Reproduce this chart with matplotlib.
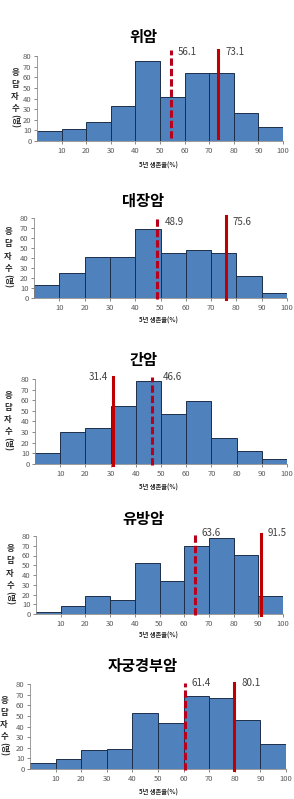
import matplotlib
matplotlib.use("Agg")
import matplotlib.pyplot as plt
import numpy as np

plt.rcParams['font.family'] = ['Noto Sans CJK KR', 'DejaVu Sans']

# ========== 데이터 ==========
bins = [0, 10, 20, 30, 40, 50, 60, 70, 80, 90, 100]
titles = ['위암', '대장암', '간암', '유방암', '자궁경부암']

counts_stomach = [9, 11, 18, 33, 75, 41, 64, 64, 26, 13]
counts_colon = [13, 25, 41, 41, 69, 45, 48, 45, 22, 5]
counts_liver = [10, 30, 34, 55, 78, 47, 59, 24, 12, 5]
counts_breast = [2, 8, 18, 14, 52, 34, 70, 78, 61, 18]
counts_cervix = [6, 9, 18, 19, 53, 43, 69, 67, 46, 24]
all_counts = [counts_stomach, counts_colon, counts_liver, counts_breast, counts_cervix]

# 응답자 평균 (점선) / 실제 생존율 (실선)
dashed_x = [54.5, 48.8, 46.4, 64.3, 60.4]
dashed_lbl = ['56.1', '48.9', '46.6', '63.6', '61.4']
solid_x = [73.6, 75.7, 31.0, 91.0, 79.7]
solid_lbl = ['73.1', '75.6', '31.4', '91.5', '80.1']

# ========== 레이아웃 (픽셀) ==========
W, H = 294, 799
# left, right, top(80), bottom(0), title y, xlabel y, ylabel x
boxes = [
    (37, 283, 56, 141, 37, 165, 15),
    (34, 287, 218, 298, 201, 320, 8),
    (35, 287, 379, 464, 360, 487, 8),
    (36, 283, 536, 614, 519, 635, 10),
    (30, 286, 684, 769, 666, 792, 4),
]
line_top = [85.6, 82, 82.2, 82, 81.2]
line_bot = [2.5, -1.5, -1, -1, -1.2]
label_y = [83.8, 76, 82, 83, 81]
solid_left = [False, False, True, False, False]

bar_col = '#4f81bd'
edge_col = '#1c2e4a'
red = '#c00000'
dred = '#b8001c'
gray = '#595959'

fig = plt.figure(figsize=(W / 100, H / 100), dpi=100)

def fy(py):
    return 1 - py / H

for i, counts in enumerate(all_counts):
    l, r, t, b, ty, xy, yx = boxes[i]
    ax = fig.add_axes([l / W, fy(b), (r - l) / W, (b - t) / H])
    ax.bar(bins[:-1], counts, width=10, align='edge', color=bar_col,
           edgecolor=edge_col, linewidth=0.7, zorder=2)
    ax.set_xlim(0, 100)
    ax.set_ylim(0, 80)
    ax.set_yticks(range(0, 81, 10))
    ax.set_xticks(range(10, 101, 10))
    ax.tick_params(labelsize=5.5, colors=gray, length=2, width=0.5, pad=2)
    for s in ['top', 'right']:
        ax.spines[s].set_visible(False)
    for s in ['left', 'bottom']:
        ax.spines[s].set_color('#8c8c8c')
        ax.spines[s].set_linewidth(0.6)

    # 점선
    ax.plot([dashed_x[i], dashed_x[i]], [line_bot[i], line_top[i]], color=dred,
            lw=2.2, linestyle=(0, (2.4, 1.0)), clip_on=False, zorder=3)
    # 실선
    ax.plot([solid_x[i], solid_x[i]], [line_bot[i], line_top[i]], color=red,
            lw=2.2, clip_on=False, zorder=3)

    off_d = 11 if i == 2 else 7
    ax.annotate(dashed_lbl[i], xy=(dashed_x[i], label_y[i]), xytext=(off_d * 0.72, 0),
                textcoords='offset points', fontsize=7, color='#404040',
                ha='left', va='center', annotation_clip=False)
    if solid_left[i]:
        ax.annotate(solid_lbl[i], xy=(solid_x[i], label_y[i]), xytext=(-5 * 0.72, 0),
                    textcoords='offset points', fontsize=7, color='#404040',
                    ha='right', va='center', annotation_clip=False)
    else:
        ax.annotate(solid_lbl[i], xy=(solid_x[i], label_y[i]), xytext=(7 * 0.72, 0),
                    textcoords='offset points', fontsize=7, color='#404040',
                    ha='left', va='center', annotation_clip=False)

    # 제목, x축 제목
    fig.text(143 / W, fy(ty), titles[i], ha='center', va='center',
             fontsize=11, fontweight='bold', color='black')
    fig.text(158 / W, fy(xy), '5년 생존율(%)', ha='center', va='center',
             fontsize=4.5, fontweight='bold', color='#262626')

    # 세로 y축 제목
    c = (t + b) / 2
    fig.text(yx / W, fy(c - 8), '응\n답\n자\n수', ha='center', va='center',
             fontsize=6, fontweight='bold', color='#262626', linespacing=1.45)
    fig.text(yx / W, fy(c + 23), '(명)', ha='center', va='center', rotation=-90,
             fontsize=6, fontweight='bold', color='#262626')

fig.savefig('out.png', dpi=100, facecolor='white')
